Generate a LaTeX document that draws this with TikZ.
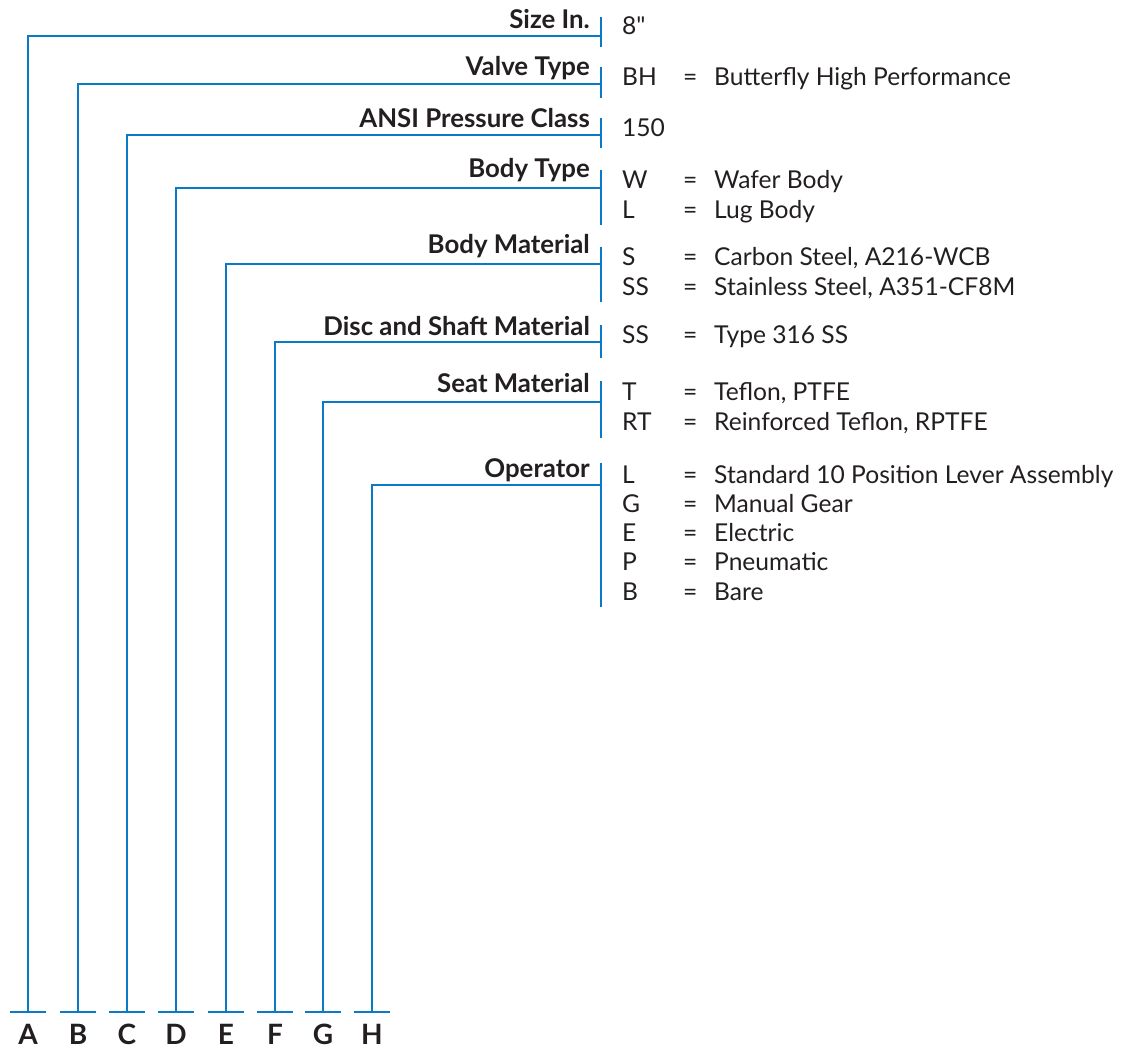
\documentclass[tikz,border=0pt]{standalone}
\usepackage{fontspec}
\setmainfont{Lato}
\definecolor{barblue}{RGB}{10,122,200}
\definecolor{ink}{RGB}{35,31,32}
\tikzset{
  conn/.style={draw=barblue, line width=2.2pt},
  lbl/.style={anchor=base east, inner sep=0pt, text=ink, font=\fontsize{25.8}{28}\selectfont\bfseries},
  code/.style={anchor=base west, inner sep=0pt, text=ink, font=\fontsize{24.6}{28}\selectfont},
  letter/.style={anchor=base, inner sep=0pt, text=ink, font=\fontsize{28}{30}\selectfont\bfseries},
}
\newcommand{\valrow}[4]{%
  \node[code] (#1-code) at (622,#4) {#2};
  \node[code] (#1-eq) at (683,#4) {=};
  \node[code] (#1-desc) at (714,#4) {#3};
}
\begin{document}
\begin{tikzpicture}[x=1pt,y=-1pt]
\useasboundingbox[fill=white] (0,0) rectangle (1128,1049);
% label, baseline, line y, bar top, bar bottom, column x, letter
\foreach \name/\txt/\by/\ly/\ta/\tb/\cx/\lt in {
  r1/Size In./29/36/17/47/28/A,
  r2/Valve Type/76/84/67/98/78/B,
  r3/ANSI Pressure Class/128/135/118/148/127/C,
  r4/Body Type/177/188/170/225/176/D,
  r5/Body Material/253/264/247/302/226/E,
  r6/Disc and Shaft Material/335/342/325/358/275/F,
  r7/Seat Material/392/402/381/438/323/G,
  r8/Operator/477/485/463/607/372/H}{
  \node[lbl] (\name-lbl) at (590,\by) {\txt};
  \coordinate (\name-top) at (601,\ta);
  \coordinate (\name-bot) at (601,\tb);
  \coordinate (\name-join) at (601,\ly);
  \coordinate (\name-corner) at (\cx,\ly);
  \coordinate (\name-foot) at (\cx,1012);
  \coordinate (\name-fl) at (\cx-18,1012);
  \coordinate (\name-fr) at (\cx+18,1012);
  \node[letter] (\name-letter) at (\cx,1044) {\lt};
  \draw[conn] (\name-top) -- (\name-bot);
  \draw[conn] (\name-join) -- (\name-corner) -- (\name-foot);
  \draw[conn] (\name-fl) -- (\name-fr);
}
% values
\node[code] (v1-code) at (622,35) {\addfontfeature{Ligatures=TeXOff}8"};
\valrow{v2}{BH}{Butterfly High Performance}{85}
\node[code] (v3-code) at (622,136) {150};
\valrow{v4}{W}{Wafer Body}{188}
\valrow{v5}{L}{Lug Body}{218}
\valrow{v6}{S}{Carbon Steel, A216-WCB}{265}
\valrow{v7}{SS}{Stainless Steel, A351-CF8M}{295}
\valrow{v8}{SS}{Type 316 SS}{343}
\valrow{v9}{T}{Teflon, PTFE}{400}
\valrow{v10}{RT}{Reinforced Teflon, RPTFE}{430}
\valrow{v11}{L}{Standard 10 Position Lever Assembly}{483}
\valrow{v12}{G}{Manual Gear}{512}
\valrow{v13}{E}{Electric}{541}
\valrow{v14}{P}{Pneumatic}{570}
\valrow{v15}{B}{Bare}{600}
\end{tikzpicture}
\end{document}
